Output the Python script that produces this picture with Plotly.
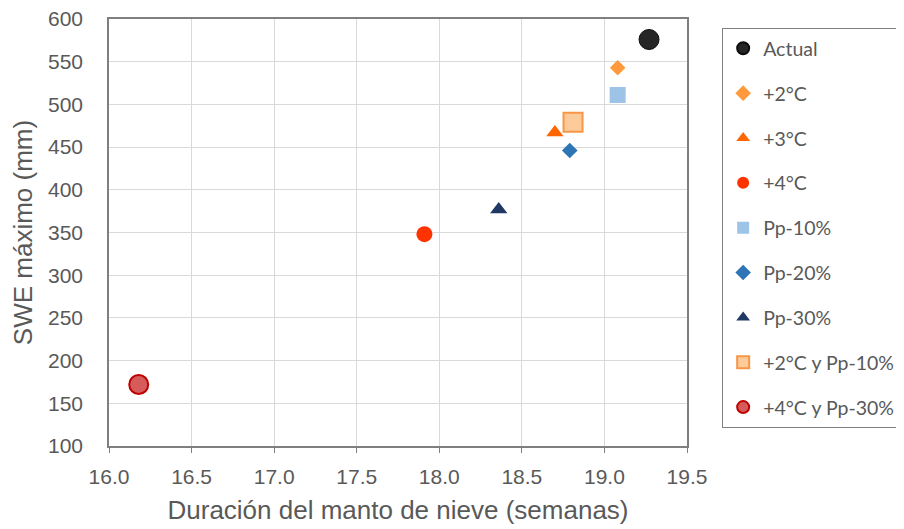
import plotly.graph_objects as go

series_names = ["Actual", "+2°C", "+3°C", "+4°C", "Pp-10%", "Pp-20%", "Pp-30%",
                "+2°C y Pp-10%", "+4°C y Pp-30%"]
duration_weeks = [19.27, 19.08, 18.70, 17.91, 19.08, 18.79, 18.36, 18.81, 16.18]
swe_max_mm = [576, 543, 467, 348, 511, 446, 377, 479, 172]

colors = ["#262626", "#FF9A3C", "#FF6600", "#FF3300", "#9DC3E6", "#2E75B6", "#1F3864",
          "#FCCB99", "#D65C5C"]
line_colors = ["#0D0D0D", "#FF9A3C", "#FF6600", "#FF3300", "#9DC3E6", "#2E75B6", "#1F3864",
               "#F79646", "#C00000"]
line_widths = [1, 0, 0, 0, 0, 0, 0, 2, 2]
symbols = ["circle", "diamond", "triangle-up", "circle", "square", "diamond", "triangle-up",
           "square", "circle"]
sizes = [20, 12, 15, 16, 16, 12, 15, 19, 19]

fig = go.Figure()
for i, name in enumerate(series_names):
    fig.add_trace(go.Scatter(
        x=[duration_weeks[i]], y=[swe_max_mm[i]], mode="markers", name=name,
        legendgroup=name,
        marker=dict(symbol=symbols[i], size=sizes[i], color=colors[i],
                    line=dict(color=line_colors[i], width=line_widths[i])),
    ))

tick_font = dict(family="Liberation Sans, Arial", size=21, color="#595959")
title_font = dict(family="Liberation Sans, Arial", size=26, color="#595959")
fig.update_layout(
    width=904, height=529,
    margin=dict(l=101, r=225, t=11, b=91, autoexpand=False),
    paper_bgcolor="white", plot_bgcolor="white",
    showlegend=True,
    legend=dict(
        xref="container", yref="container",
        x=0.790, y=0.962, xanchor="left", yanchor="top",
        maxheight=440,
        bordercolor="#7F7F7F", borderwidth=1,
        font=dict(family="Lato, Open Sans", size=19.5, color="#595959"),
        tracegroupgap=16.5, itemsizing="constant",
    ),
    xaxis=dict(
        range=[16.0, 19.5], tickvals=[16.0, 16.5, 17.0, 17.5, 18.0, 18.5, 19.0, 19.5],
        tickformat=".1f", showgrid=True, gridcolor="#D9D9D9", gridwidth=1,
        showline=True, linecolor="#7F7F7F", linewidth=1.5, mirror=True,
        ticks="outside", ticklen=5, tickcolor="#7F7F7F", automargin=False,
        tickfont=tick_font, zeroline=False, ticklabelstandoff=6,
        ticklabeloverflow="allow",
        title=dict(text="Duración del manto de nieve (semanas)", font=title_font, standoff=14),
    ),
    yaxis=dict(
        range=[100, 600], tickvals=list(range(100, 601, 50)),
        showgrid=True, gridcolor="#D9D9D9", gridwidth=1,
        showline=True, linecolor="#7F7F7F", linewidth=1.5, mirror=True,
        ticks="", tickfont=tick_font, zeroline=False, ticklabelstandoff=20,
        automargin=False, ticklabeloverflow="allow",
        title=dict(text="SWE máximo (mm)", font=title_font, standoff=10),
    ),
)

fig.write_html("out.html")
